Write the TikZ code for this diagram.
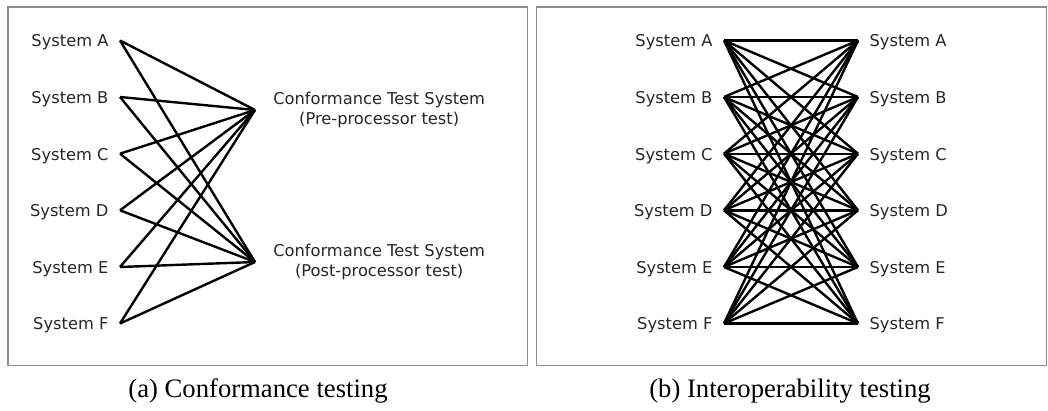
\documentclass[tikz,border=0pt]{standalone}
\usepackage{fontspec}
\newfontfamily\labfont{DejaVu Sans}
\newfontfamily\capfont{Liberation Serif}
\usetikzlibrary{positioning}

\begin{document}
\begin{tikzpicture}[
  x=0.75pt, y=-0.75pt,
  node distance=8.5pt,
  frame/.style={draw=black!45,line width=1.1pt},
  sys/.style={inner sep=0pt,text=black!85,font=\labfont\fontsize{12.2}{15}\selectfont},
  cts/.style={sys,align=center},
  link/.style={line width=1.8pt},
  subcap/.style={inner sep=0pt,font=\capfont\fontsize{20}{24}\selectfont}
]
  \useasboundingbox (0,0) rectangle (1048,410);
  \draw[frame] (8,7) rectangle (527.5,365.5);
  \draw[frame] (536.5,7) rectangle (1046.5,365.5);

  % (a) conformance testing
  \foreach \s/\y in {A/40.5,B/97,C/153.7,D/210.3,E/267,F/323.5}{
    \coordinate (c\s) at (120,\y);
    \node[sys,left=of c\s,yshift=-1.5pt] (labc\s) {System \s};
  }
  \coordinate (pre) at (255,110);
  \coordinate (post) at (255,262);
  \node[cts,right=13.5pt of pre] (prelab) {Conformance Test System\\(Pre-processor test)};
  \node[cts,right=13.5pt of post] (postlab) {Conformance Test System\\(Post-processor test)};
  \foreach \s in {A,B,C,D,E,F}{
    \draw[link] (c\s) -- (pre);
    \draw[link] (c\s) -- (post);
  }

  % (b) interoperability testing
  \foreach \s/\y in {A/40.5,B/97,C/153.7,D/210.3,E/267,F/323.5}{
    \coordinate (l\s) at (724,\y);
    \coordinate (r\s) at (858,\y);
    \node[sys,left=of l\s,yshift=-1.5pt] (labl\s) {System \s};
    \node[sys,right=of r\s,yshift=-1.5pt] (labr\s) {System \s};
  }
  \foreach \s in {A,B,C,D,E,F}
    \foreach \t in {A,B,C,D,E,F}
      \draw[link] (l\s) -- (r\t);

  \node[subcap] (capa) at (258,391) {(a) Conformance testing};
  \node[subcap] (capb) at (790,391) {(b) Interoperability testing};
\end{tikzpicture}
\end{document}
